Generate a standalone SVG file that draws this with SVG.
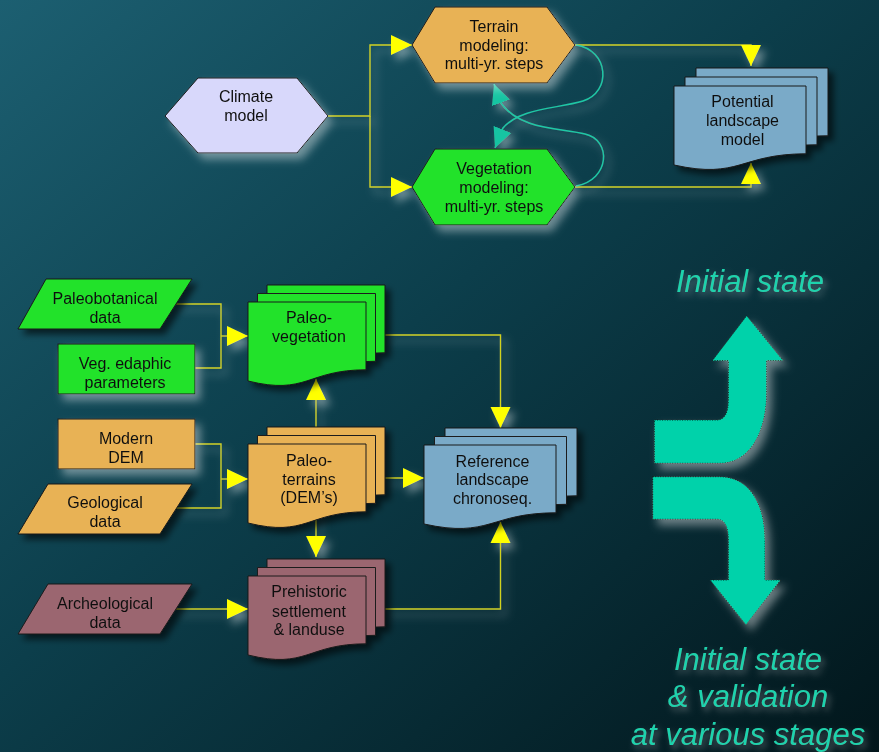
<svg xmlns="http://www.w3.org/2000/svg" xmlns:xlink="http://www.w3.org/1999/xlink" width="879" height="752" viewBox="0 0 879 752">
  <defs>
    <linearGradient id="bg" x1="0" y1="0" x2="1" y2="1">
      <stop offset="0" stop-color="#1c5f71"/>
      <stop offset="0.45" stop-color="#0c3e4b"/>
      <stop offset="1" stop-color="#02161b"/>
    </linearGradient>
    <!-- soft light halo, offset down-right -->
    <filter id="glow" x="-30%" y="-30%" width="160%" height="160%">
      <feGaussianBlur in="SourceAlpha" stdDeviation="4"/>
      <feOffset dx="5" dy="6" result="b"/>
      <feFlood flood-color="#ffffff" flood-opacity="0.4"/>
      <feComposite in2="b" operator="in"/>
      <feMerge><feMergeNode/><feMergeNode in="SourceGraphic"/></feMerge>
    </filter>
    <!-- dark drop shadow -->
    <filter id="shade" x="-30%" y="-30%" width="160%" height="160%">
      <feGaussianBlur in="SourceAlpha" stdDeviation="3"/>
      <feOffset dx="5" dy="5" result="b"/>
      <feFlood flood-color="#000000" flood-opacity="0.6"/>
      <feComposite in2="b" operator="in"/>
      <feMerge><feMergeNode/><feMergeNode in="SourceGraphic"/></feMerge>
    </filter>
    <filter id="textglow" x="-20%" y="-40%" width="140%" height="180%">
      <feGaussianBlur in="SourceAlpha" stdDeviation="3"/>
      <feOffset dx="3" dy="4" result="b"/>
      <feFlood flood-color="#ffffff" flood-opacity="0.3"/>
      <feComposite in2="b" operator="in"/>
      <feMerge><feMergeNode/><feMergeNode in="SourceGraphic"/></feMerge>
    </filter>
    <marker id="ya" markerUnits="userSpaceOnUse" markerWidth="21" markerHeight="21" refX="21" refY="10" orient="auto" viewBox="0 0 21 20">
      <path d="M0,0 L21,10 L0,20 Z" fill="#ffff00"/>
    </marker>
    <marker id="ca" markerUnits="userSpaceOnUse" markerWidth="20" markerHeight="20" refX="20" refY="9.5" orient="auto" viewBox="0 0 20 19">
      <path d="M0,0 L20,9.5 L0,19 Z" fill="#17c4a2"/>
    </marker>
    <!-- flowchart document shapes (small / large) -->
    <path id="docS" d="M0,0 H118 V67.8 C59,67.8 59,93.6 0,79 Z"/>
    <path id="docL" d="M0,0 H132 V67.8 C66,67.8 66,93.6 0,79 Z"/>
    <style>
      .lbl { font-family: "Liberation Sans", Arial, sans-serif; font-size: 16px; fill: #111; text-anchor: middle; }
      .big { font-family: "Liberation Sans", Arial, sans-serif; font-size: 31px; font-style: italic; fill: #1fd3ad; text-anchor: middle; }
      .edge { fill: none; stroke: #d2d21e; stroke-width: 1.4; }
      .loop { fill: none; stroke: #1cc8a6; stroke-width: 1.5; }
      .shape { stroke: #1a1a1a; stroke-width: 1; }
      .lav { fill: #d8d8fb; }
      .org { fill: #e8b254; }
      .grn { fill: #20e22a; }
      .blu { fill: #7aaac8; }
      .mav { fill: #9b6670; }
      .fat { fill: #00d2aa; stroke: #000; stroke-width: 0.9; stroke-dasharray: 1 1.5; }
    </style>
  </defs>

  <rect x="0" y="0" width="879" height="752" fill="url(#bg)"/>

  <!-- connectors -->
  <g id="connectors" filter="url(#glow)">
    <path class="edge" d="M328,116 H370 V45 H412" marker-end="url(#ya)"/>
    <path class="edge" d="M370,116 V187 H412" marker-end="url(#ya)"/>
    <path class="edge" d="M575,45 H751 V66" marker-end="url(#ya)"/>
    <path class="edge" d="M575,187 H751 V163" marker-end="url(#ya)"/>
    <path class="loop" d="M576,45 C609,50 612,92 583,101 C556,109 520,108 503,128 L495,148" marker-end="url(#ca)"/>
    <path class="loop" d="M576,186 C610,180 612,140 585,134 C560,128 520,130 501,103 L494,84" marker-end="url(#ca)"/>

    <path class="edge" d="M176,304 H221 V368 H195"/>
    <path class="edge" d="M221,336 H248" marker-end="url(#ya)"/>
    <path class="edge" d="M384,335 H500.5 V428" marker-end="url(#ya)"/>
    <path class="edge" d="M195,444 H221 V508 H176"/>
    <path class="edge" d="M221,479 H248" marker-end="url(#ya)"/>
    <path class="edge" d="M384,478 H424" marker-end="url(#ya)"/>
    <path class="edge" d="M316,427 V379" marker-end="url(#ya)"/>
    <path class="edge" d="M316,510 V557" marker-end="url(#ya)"/>
    <path class="edge" d="M176,609 H248" marker-end="url(#ya)"/>
    <path class="edge" d="M384,609 H500.5 V522" marker-end="url(#ya)"/>
  </g>

  <!-- upper model chain -->
  <g id="climate" filter="url(#glow)">
    <polygon class="shape lav" points="165,116 198,78 297,78 328,116 297,153 198,153"/>
    <text class="lbl" x="246" y="102">Climate</text>
    <text class="lbl" x="246" y="121">model</text>
  </g>
  <g id="terrain-modeling" filter="url(#glow)">
    <polygon class="shape org" points="412,45 435,7 547,7 575,45 547,83 435,83"/>
    <text class="lbl" x="494" y="32">Terrain</text>
    <text class="lbl" x="494" y="50.5">modeling:</text>
    <text class="lbl" x="494" y="69">multi-yr. steps</text>
  </g>
  <g id="vegetation-modeling" filter="url(#glow)">
    <polygon class="shape grn" points="412,187 435,149 547,149 575,187 547,225 435,225"/>
    <text class="lbl" x="494" y="174">Vegetation</text>
    <text class="lbl" x="494" y="193">modeling:</text>
    <text class="lbl" x="494" y="212">multi-yr. steps</text>
  </g>
  <g id="potential-landscape" filter="url(#shade)">
    <use xlink:href="#docL" class="shape blu" x="696" y="68"/>
    <use xlink:href="#docL" class="shape blu" x="685" y="77"/>
    <use xlink:href="#docL" class="shape blu" x="674" y="86"/>
    <text class="lbl" x="742.5" y="107">Potential</text>
    <text class="lbl" x="742.5" y="126">landscape</text>
    <text class="lbl" x="742.5" y="145">model</text>
  </g>

  <!-- data inputs -->
  <g id="paleobotanical" filter="url(#shade)">
    <polygon class="shape grn" points="46,279 192,279 160,329 18,329"/>
    <text class="lbl" x="105" y="304">Paleobotanical</text>
    <text class="lbl" x="105" y="323">data</text>
  </g>
  <g id="veg-edaphic" filter="url(#glow)">
    <rect class="shape grn" x="58" y="344" width="137" height="50"/>
    <text class="lbl" x="125" y="369">Veg. edaphic</text>
    <text class="lbl" x="125" y="388">parameters</text>
  </g>
  <g id="modern-dem" filter="url(#glow)">
    <rect class="shape org" x="58" y="419" width="137" height="50"/>
    <text class="lbl" x="126" y="444">Modern</text>
    <text class="lbl" x="126" y="462.5">DEM</text>
  </g>
  <g id="geological" filter="url(#shade)">
    <polygon class="shape org" points="48,484 192,484 160,534 18,534"/>
    <text class="lbl" x="105" y="508">Geological</text>
    <text class="lbl" x="105" y="527">data</text>
  </g>
  <g id="archeological" filter="url(#shade)">
    <polygon class="shape mav" points="48,584 192,584 160,634 18,634"/>
    <text class="lbl" x="105" y="609">Archeological</text>
    <text class="lbl" x="105" y="627.5">data</text>
  </g>

  <!-- derived reconstructions -->
  <g id="paleo-vegetation" filter="url(#shade)">
    <use xlink:href="#docS" class="shape grn" x="267" y="285"/>
    <use xlink:href="#docS" class="shape grn" x="257.5" y="293.5"/>
    <use xlink:href="#docS" class="shape grn" x="248" y="302"/>
    <text class="lbl" x="309" y="323">Paleo-</text>
    <text class="lbl" x="309" y="342">vegetation</text>
  </g>
  <g id="paleo-terrains" filter="url(#shade)">
    <use xlink:href="#docS" class="shape org" x="267" y="427"/>
    <use xlink:href="#docS" class="shape org" x="257.5" y="435.5"/>
    <use xlink:href="#docS" class="shape org" x="248" y="444"/>
    <text class="lbl" x="309" y="466">Paleo-</text>
    <text class="lbl" x="309" y="484.5">terrains</text>
    <text class="lbl" x="309" y="503">(DEM’s)</text>
  </g>
  <g id="prehistoric" filter="url(#shade)">
    <use xlink:href="#docS" class="shape mav" x="267" y="559"/>
    <use xlink:href="#docS" class="shape mav" x="257.5" y="567.5"/>
    <use xlink:href="#docS" class="shape mav" x="248" y="576"/>
    <text class="lbl" x="309" y="597">Prehistoric</text>
    <text class="lbl" x="309" y="616.5">settlement</text>
    <text class="lbl" x="309" y="635">&amp; landuse</text>
  </g>
  <g id="reference-landscape" filter="url(#shade)">
    <use xlink:href="#docL" class="shape blu" x="445" y="428"/>
    <use xlink:href="#docL" class="shape blu" x="434.5" y="436.5"/>
    <use xlink:href="#docL" class="shape blu" x="424" y="445"/>
    <text class="lbl" x="492.5" y="466.5">Reference</text>
    <text class="lbl" x="492.5" y="485">landscape</text>
    <text class="lbl" x="492.5" y="504">chronoseq.</text>
  </g>

  <!-- split arrow with captions -->
  <g id="split-arrows" filter="url(#glow)">
    <path class="fat" d="M746.7,315.7 L783.3,360.7 L766.7,360.7 L766.7,392 C766.7,432 750,463.3 720,463.3 L654.3,463.3 L654.3,420 L716.7,420 Q728.3,420 728.3,400 L728.3,360.7 L712.3,360.7 Z"/>
    <path class="fat" d="M652.7,476.7 L720,476.7 C750,476.7 765,505 765,540 L765,580 L780.7,580 L746,625 L710,580 L728.3,580 L728.3,540 Q728.3,519.3 716.7,519.3 L652.7,519.3 Z"/>
  </g>
  <g id="captions" filter="url(#textglow)">
    <text class="big" x="750" y="292">Initial state</text>
    <text class="big" x="748" y="670">Initial state</text>
    <text class="big" x="748" y="707">&amp; validation</text>
    <text class="big" x="748" y="745">at various stages</text>
  </g>
</svg>
